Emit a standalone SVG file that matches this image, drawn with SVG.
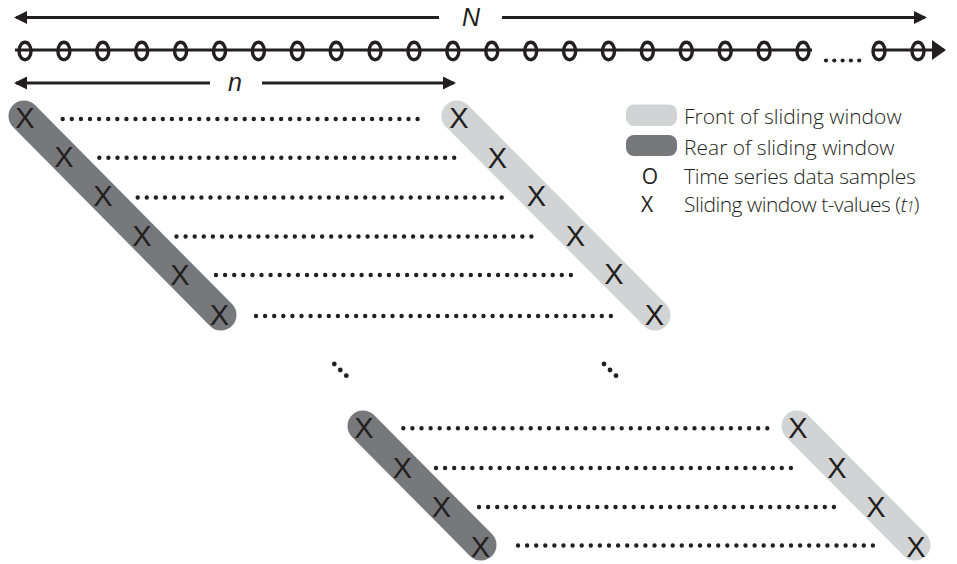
<svg xmlns="http://www.w3.org/2000/svg" width="957" height="564" viewBox="0 0 957 564">
<defs>
<style>
.ln{stroke:#231f20;stroke-width:3;fill:none}
.dots{stroke:#231f20;stroke-width:4.4;stroke-linecap:round;stroke-dasharray:0 9.1;fill:none}
.rear{stroke:#77787b;stroke-width:31;stroke-linecap:round;fill:none}
.front{stroke:#d1d3d4;stroke-width:31;stroke-linecap:round;fill:none}
.x{font-family:"Liberation Sans",Arial,sans-serif;font-size:29px;fill:#231f20;text-anchor:middle}
.o{fill:none;stroke:#231f20;stroke-width:3.4}
.lg{font-family:"Open Sans","Liberation Sans",sans-serif;font-size:21px;fill:#231f20;font-weight:300}
.sym{font-family:"Open Sans","Liberation Sans",sans-serif;font-size:21px;fill:#231f20;text-anchor:middle}
.lbl{font-family:"Liberation Sans",Arial,sans-serif;font-size:25px;font-style:italic;fill:#231f20;text-anchor:middle}
.dot{fill:#231f20}
</style>
<marker id="ah" viewBox="0 0 13 13" refX="11" refY="6.5" markerWidth="13" markerHeight="13" markerUnits="userSpaceOnUse" orient="auto-start-reverse"><path d="M0,0 L13,6.5 L0,13 Z" fill="#231f20"/></marker>
<marker id="ahb" viewBox="0 0 14 20" refX="12" refY="10" markerWidth="14" markerHeight="20" markerUnits="userSpaceOnUse" orient="auto"><path d="M0,0 L14,10 L0,20 Z" fill="#231f20"/></marker>
</defs>
<rect width="957" height="564" fill="#fff"/>

<g id="connectors">
  <line class="ln" x1="16" y1="17.5" x2="439" y2="17.5" marker-start="url(#ah)"/>
  <line class="ln" x1="502" y1="17.5" x2="925" y2="17.5" marker-end="url(#ah)"/>
  <line class="ln" x1="16" y1="83" x2="210" y2="83" marker-start="url(#ah)"/>
  <line class="ln" x1="262" y1="83" x2="454" y2="83" marker-end="url(#ah)"/>
  <line class="ln" x1="15" y1="50" x2="812" y2="50"/>
  <line class="ln" x1="872" y1="50" x2="944" y2="50" marker-end="url(#ahb)"/>
</g>

<g id="label-N"><text class="lbl" x="471" y="25.5">N</text></g>
<g id="label-n"><text class="lbl" x="235" y="90.5">n</text></g>

<g id="time-series">
  <ellipse class="o" cx="25" cy="51" rx="6" ry="8.7"/>
  <ellipse class="o" cx="63.9" cy="51" rx="6" ry="8.7"/>
  <ellipse class="o" cx="102.8" cy="51" rx="6" ry="8.7"/>
  <ellipse class="o" cx="141.7" cy="51" rx="6" ry="8.7"/>
  <ellipse class="o" cx="180.6" cy="51" rx="6" ry="8.7"/>
  <ellipse class="o" cx="219.5" cy="51" rx="6" ry="8.7"/>
  <ellipse class="o" cx="258.4" cy="51" rx="6" ry="8.7"/>
  <ellipse class="o" cx="297.3" cy="51" rx="6" ry="8.7"/>
  <ellipse class="o" cx="336.2" cy="51" rx="6" ry="8.7"/>
  <ellipse class="o" cx="375.1" cy="51" rx="6" ry="8.7"/>
  <ellipse class="o" cx="414" cy="51" rx="6" ry="8.7"/>
  <ellipse class="o" cx="452.9" cy="51" rx="6" ry="8.7"/>
  <ellipse class="o" cx="491.8" cy="51" rx="6" ry="8.7"/>
  <ellipse class="o" cx="530.7" cy="51" rx="6" ry="8.7"/>
  <ellipse class="o" cx="569.6" cy="51" rx="6" ry="8.7"/>
  <ellipse class="o" cx="608.5" cy="51" rx="6" ry="8.7"/>
  <ellipse class="o" cx="647.4" cy="51" rx="6" ry="8.7"/>
  <ellipse class="o" cx="686.3" cy="51" rx="6" ry="8.7"/>
  <ellipse class="o" cx="725.2" cy="51" rx="6" ry="8.7"/>
  <ellipse class="o" cx="764.1" cy="51" rx="6" ry="8.7"/>
  <ellipse class="o" cx="803" cy="51" rx="6" ry="8.7"/>
  <circle class="dot" cx="826" cy="60.5" r="2.1"/>
  <circle class="dot" cx="834.3" cy="60.5" r="2.1"/>
  <circle class="dot" cx="842.6" cy="60.5" r="2.1"/>
  <circle class="dot" cx="850.9" cy="60.5" r="2.1"/>
  <circle class="dot" cx="859.2" cy="60.5" r="2.1"/>
  <ellipse class="o" cx="879" cy="51" rx="6" ry="8.7"/>
  <ellipse class="o" cx="918" cy="51" rx="6" ry="8.7"/>
</g>

<g id="window-rows-top">
  <line class="dots" x1="62.7" y1="119" x2="426.7" y2="119"/>
  <line class="dots" x1="99.3" y1="157.7" x2="463.3" y2="157.7"/>
  <line class="dots" x1="137.7" y1="197.5" x2="501.7" y2="197.5"/>
  <line class="dots" x1="176.5" y1="236.5" x2="540.5" y2="236.5"/>
  <line class="dots" x1="216" y1="275" x2="580" y2="275"/>
  <line class="dots" x1="256" y1="316" x2="620" y2="316"/>
</g>

<g id="rear-window-1">
  <line class="rear" x1="24" y1="116" x2="221" y2="315"/>
  <text class="x" x="25" y="127.5">X</text>
  <text class="x" x="64" y="166.5">X</text>
  <text class="x" x="103" y="206">X</text>
  <text class="x" x="142" y="246">X</text>
  <text class="x" x="180" y="285">X</text>
  <text class="x" x="219.5" y="324.5">X</text>
</g>

<g id="front-window-1">
  <line class="front" x1="457" y1="116" x2="655" y2="315"/>
  <text class="x" x="459" y="127.5">X</text>
  <text class="x" x="497.5" y="167.5">X</text>
  <text class="x" x="536.5" y="206">X</text>
  <text class="x" x="575.5" y="246">X</text>
  <text class="x" x="614" y="284">X</text>
  <text class="x" x="654.5" y="325">X</text>
</g>

<g id="ellipsis-left">
  <circle class="dot" cx="334.3" cy="364" r="2.4"/>
  <circle class="dot" cx="340.3" cy="370" r="2.4"/>
  <circle class="dot" cx="346.3" cy="375.7" r="2.4"/>
</g>
<g id="ellipsis-right">
  <circle class="dot" cx="604" cy="364" r="2.4"/>
  <circle class="dot" cx="610" cy="370" r="2.4"/>
  <circle class="dot" cx="616" cy="375.7" r="2.4"/>
</g>

<g id="window-rows-bottom">
  <line class="dots" x1="403.3" y1="428.3" x2="767.3" y2="428.3"/>
  <line class="dots" x1="436" y1="468" x2="800" y2="468"/>
  <line class="dots" x1="479" y1="507" x2="843" y2="507"/>
  <line class="dots" x1="518" y1="545.5" x2="882" y2="545.5"/>
</g>

<g id="rear-window-2">
  <line class="rear" x1="363" y1="426" x2="481" y2="545"/>
  <text class="x" x="364" y="438">X</text>
  <text class="x" x="402.5" y="477.5">X</text>
  <text class="x" x="441.5" y="516.5">X</text>
  <text class="x" x="480.5" y="557">X</text>
</g>

<g id="front-window-2">
  <line class="front" x1="797" y1="426" x2="915" y2="545"/>
  <text class="x" x="798" y="438">X</text>
  <text class="x" x="837" y="477.5">X</text>
  <text class="x" x="876" y="516.5">X</text>
  <text class="x" x="916" y="557">X</text>
</g>

<g id="legend">
  <rect x="626" y="104.5" width="51" height="21.5" rx="8" fill="#d1d3d4"/>
  <text class="lg" x="684" y="123.5">Front of sliding window</text>
  <rect x="626" y="135" width="51" height="21" rx="8" fill="#77787b"/>
  <text class="lg" x="684" y="155">Rear of sliding window</text>
  <text class="sym" x="650" y="183.5">O</text>
  <text class="lg" x="684" y="183.5" letter-spacing="-0.25">Time series data samples</text>
  <text class="sym" x="647" y="212">X</text>
  <text class="lg" x="684" y="212" font-size="20.5" letter-spacing="-0.5">Sliding window t-values (<tspan font-style="italic">t</tspan><tspan font-style="italic" font-size="14">1</tspan>)</text>
</g>
</svg>
